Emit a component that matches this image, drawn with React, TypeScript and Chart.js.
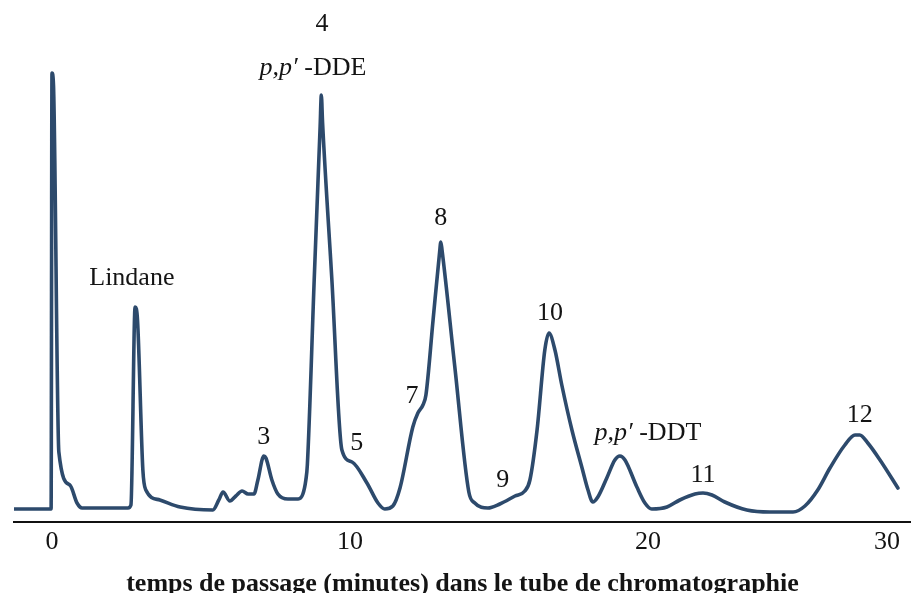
import React, { useEffect, useRef } from "react";
import { Chart, registerables } from "chart.js";

Chart.register(...registerables);

// Retention time (minutes) and detector response (arbitrary units)
const TIME_MIN = [
  -1.28, -0.07, -0.03, 0.0, 0.05, 0.23, 0.6, 0.84, 1.01, 1.28, 2.55,
  2.65, 2.79, 2.87, 3.05, 3.15, 3.62, 4.3, 5.4, 5.6, 5.74,
  5.97, 6.17, 6.38, 6.58, 6.78, 6.91, 7.11, 7.18, 7.38, 7.58,
  7.92, 8.26, 8.42, 8.52, 8.57, 8.8, 9.0, 9.04, 9.08, 9.39, 9.73, 10.07, 10.57,
  10.94, 11.17, 11.44, 11.68, 12.11, 12.28, 12.45, 12.55, 12.79, 13.01, 13.05,
  13.09, 13.52, 13.99, 14.19, 14.63, 15.03, 15.54, 15.87, 16.04, 16.28, 16.54,
  16.68, 16.88, 17.11, 17.45, 17.79, 17.99, 18.15, 18.32, 18.62, 18.89, 19.06,
  19.23, 19.63, 19.9, 20.13, 20.64, 21.07, 21.58, 21.85, 22.15, 22.58,
  23.32, 24.09, 24.87, 25.27, 25.7, 26.11, 26.61, 26.95, 27.11, 27.38,
  27.79, 28.39,
];

const RESPONSE = [
  13, 13, 13, 449, 437, 70, 37, 19, 14, 14, 14,
  17, 215, 202, 52, 32, 22, 15, 12, 22, 30,
  21, 26, 31, 28, 28, 42, 66, 64, 42, 28,
  23, 23, 28, 42, 57, 242, 396, 427, 400, 244, 72, 60, 39,
  19, 13, 16, 34, 95, 109, 117, 127, 202, 270, 280,
  272, 155, 30, 19, 14, 18, 26, 31, 42, 92, 172,
  189, 172, 137, 92, 54, 32, 20, 25, 44, 62, 66,
  62, 35, 19, 13, 15, 22, 28, 29, 27, 20,
  12, 10, 10, 16, 32, 54, 77, 87, 87, 79,
  62, 34,
];

const X_TICKS = [0, 10, 20];
const LAST_TICK_LABEL = "30";
const X_TITLE = "temps de passage (minutes) dans le tube de chromatographie";

const PEAK_LABELS = [
  "Lindane", "3", "4", "p,p′ -DDE", "5", "7", "8", "9", "10", "p,p′ -DDT", "11", "12",
];
const PEAK_LABEL_TIME = [2.68, 7.11, 9.06, 8.76, 10.23, 12.08, 13.05, 15.13, 16.71, 20.0, 21.85, 27.11];
const PEAK_LABEL_LEVEL = [244, 85, 498, 454, 79, 126, 304, 42, 209, 89, 47, 107];

const X_MIN = -1.275;
const X_MAX = 28.83;
const Y_MIN = 0;
const Y_MAX = 522;

const SERIF = '"Liberation Serif", "Times New Roman", serif';
const LINE_COLOR = "#2d4a6c";
const TEXT_COLOR = "#141414";
const AXIS_HEIGHT = 71;
const TICK_PADDING = 5;

const peakLabelPlugin = {
  id: "peakLabels",
  afterDatasetsDraw(chart: any) {
    const { ctx, scales } = chart;
    const x = scales.x;
    const y = scales.y;
    ctx.save();
    ctx.fillStyle = TEXT_COLOR;
    ctx.textBaseline = "middle";
    const regular = `26px ${SERIF}`;
    const italic = `italic 26px ${SERIF}`;
    PEAK_LABELS.forEach((txt, i) => {
      const px = x.getPixelForValue(PEAK_LABEL_TIME[i]);
      const py = y.getPixelForValue(PEAK_LABEL_LEVEL[i]);
      const m = txt.match(/^(p,p′)(.*)$/);
      if (m) {
        ctx.font = italic;
        const w1 = ctx.measureText(m[1]).width;
        ctx.font = regular;
        const w2 = ctx.measureText(m[2]).width;
        const sx = px - (w1 + w2) / 2;
        ctx.textAlign = "left";
        ctx.font = italic;
        ctx.fillText(m[1], sx, py);
        ctx.font = regular;
        ctx.fillText(m[2], sx + w1, py);
      } else {
        ctx.textAlign = "center";
        ctx.font = regular;
        ctx.fillText(txt, px, py);
      }
    });
    // last axis label, shown at the right end of the axis as in the source figure
    ctx.font = regular;
    ctx.textAlign = "right";
    ctx.fillText(LAST_TICK_LABEL, x.right - 11, x.top + TICK_PADDING + (26 * 1.2) / 2);
    ctx.restore();
  },
};

export default function App() {
  const ref = useRef<HTMLCanvasElement | null>(null);

  useEffect(() => {
    if (!ref.current) return;
    const points = TIME_MIN.map((t, i) => ({ x: t, y: RESPONSE[i] }));
    const chart = new Chart(ref.current, {
      type: "line",
      data: {
        datasets: [
          {
            data: points,
            borderColor: LINE_COLOR,
            borderWidth: 3.6,
            pointRadius: 0,
            fill: false,
            cubicInterpolationMode: "monotone",
            borderJoinStyle: "round",
            borderCapStyle: "round",
          },
        ],
      },
      options: {
        responsive: false,
        animation: false,
        events: [],
        layout: { padding: { left: 14, right: 0, top: 0, bottom: 0 } },
        plugins: {
          legend: { display: false },
          title: { display: false },
          tooltip: { enabled: false },
        },
        scales: {
          x: {
            type: "linear",
            min: X_MIN,
            max: X_MAX,
            afterBuildTicks: (scale: any) => {
              scale.ticks = X_TICKS.map((v) => ({ value: v }));
            },
            afterFit: (scale: any) => {
              scale.height = AXIS_HEIGHT;
            },
            grid: { display: false, drawTicks: false },
            border: { display: true, color: "#111", width: 2 },
            ticks: {
              color: TEXT_COLOR,
              padding: TICK_PADDING,
              maxRotation: 0,
              font: { family: SERIF, size: 26, lineHeight: 1.2 },
              callback: (v: any) => String(v),
            },
            title: {
              display: true,
              text: X_TITLE,
              color: TEXT_COLOR,
              font: { family: SERIF, size: 26, weight: "bold", lineHeight: 0.65 },
              padding: { top: 10, bottom: 0 },
            },
          },
          y: {
            type: "linear",
            display: false,
            min: Y_MIN,
            max: Y_MAX,
          },
        },
      },
      plugins: [peakLabelPlugin],
    });
    return () => chart.destroy();
  }, []);

  return (
    <div style={{ position: "absolute", left: 0, top: 0, width: 911, height: 593, background: "#fff" }}>
      <canvas ref={ref} width={911} height={593} style={{ display: "block", width: 911, height: 593 }} />
    </div>
  );
}
